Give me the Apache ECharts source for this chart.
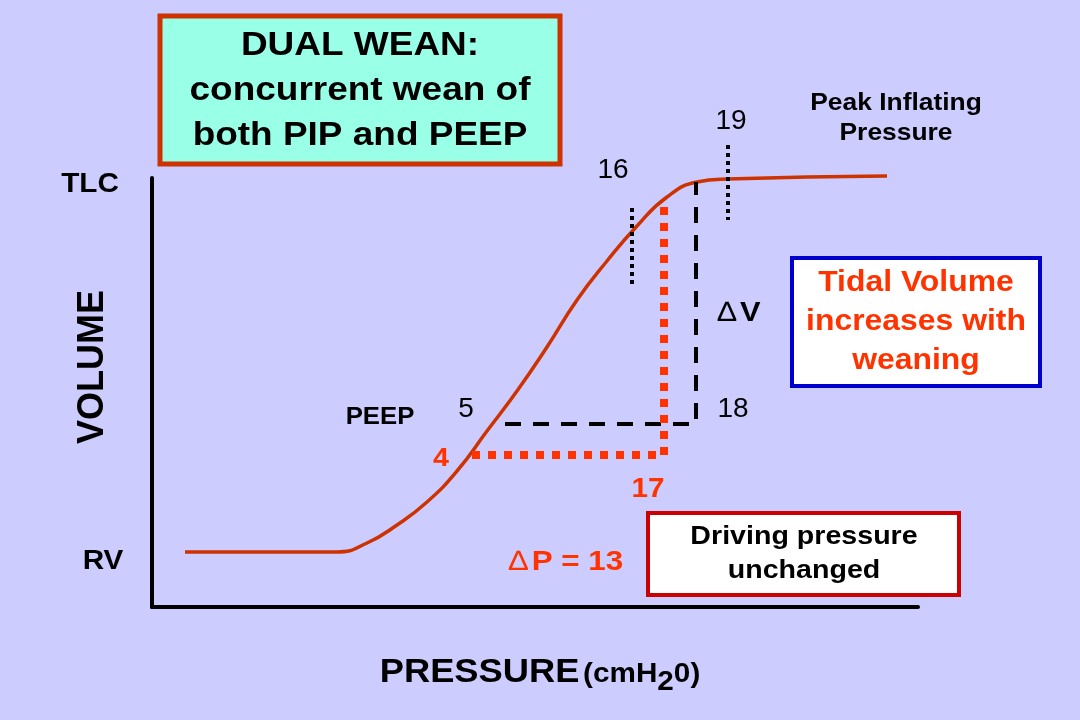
<!DOCTYPE html>
<html>
<head>
<meta charset="utf-8">
<script src="https://cdn.jsdelivr.net/npm/echarts@6/dist/echarts.min.js"></script>
<style>
html,body{margin:0;padding:0;background:#ccccff;}
#c{width:1080px;height:720px;}
</style>
</head>
<body>
<div id="c"></div>
<script>
// Pressure-volume curve (abstract units: x = pressure position, y = volume position)
const curveX = [33, 185, 215, 245, 275, 305, 335, 365, 395, 425, 455, 485, 515, 545, 575, 735];
const curveY = [55, 55, 64, 82, 105, 136, 176, 216, 260, 307, 346, 381, 410, 425, 428, 431];
// Previous settings: PEEP 5 / PIP 18 (black dashed)
const oldX = [353, 544, 544];
const oldY = [183, 183, 425];
// New settings: PEEP 4 / PIP 17 (red dotted)
const newX = [320, 512, 512];
const newY = [152, 152, 408];
// Short markers at 16 and 19
const mark16X = [480, 480];
const mark16Y = [399, 323];
const mark19X = [576, 576];
const mark19Y = [462, 387];

const zip = (a, b) => a.map((v, i) => [v, b[i]]);
const chart = echarts.init(document.getElementById('c'));
const F = '"Liberation Sans", Arial, sans-serif';

function txt(x, y, text, size, opts) {
  opts = opts || {};
  return {
    type: 'text', x: x, y: y, scaleX: opts.sx || 1.1, rotation: opts.rot || 0, z: 100,
    style: {
      text: text,
      font: (opts.normal ? 'normal ' : 'bold ') + size + 'px ' + F,
      fill: opts.color || '#000',
      textAlign: 'center', align: 'center',
      textVerticalAlign: 'middle', verticalAlign: 'middle',
      lineHeight: opts.lh || size * 1.2,
      rich: opts.rich
    }
  };
}
function box(x, y, w, h, fill, stroke, lw) {
  return { type: 'rect', z: 90, shape: { x: x, y: y, width: w, height: h },
    style: { fill: fill, stroke: stroke, lineWidth: lw } };
}

chart.setOption({
  backgroundColor: '#ccccff',
  animation: false,
  grid: { left: 152, top: 178, width: 766, height: 429 },
  xAxis: { type: 'value', min: 0, max: 766,
    axisLine: { show: true, onZero: false, lineStyle: { color: '#000', width: 4 } },
    axisTick: { show: false }, axisLabel: { show: false }, splitLine: { show: false } },
  yAxis: { type: 'value', min: 0, max: 429,
    axisLine: { show: true, onZero: false, lineStyle: { color: '#000', width: 4 } },
    axisTick: { show: false }, axisLabel: { show: false }, splitLine: { show: false } },
  series: [
    { type: 'line', data: zip(curveX, curveY), smooth: 0.5, symbol: 'none', clip: false,
      lineStyle: { color: '#cc3300', width: 3.5 } },
    { type: 'line', data: zip(oldX, oldY), symbol: 'none', clip: false,
      lineStyle: { color: '#000', width: 4, type: [16, 12] } },
    { type: 'line', data: zip(newX, newY), symbol: 'none', clip: false,
      lineStyle: { color: '#ff3300', width: 8, type: [8, 8] } },
    { type: 'line', data: zip(mark16X, mark16Y), symbol: 'none', clip: false,
      lineStyle: { color: '#000', width: 4, type: [4, 4] } },
    { type: 'line', data: zip(mark19X, mark19Y), symbol: 'none', clip: false,
      lineStyle: { color: '#000', width: 4, type: [4, 4] } }
  ],
  graphic: [
    box(160, 16, 400, 148, '#99ffe6', '#cc3300', 5),
    txt(360, 91, 'DUAL WEAN:\nconcurrent wean of\nboth PIP and PEEP', 33, { lh: 45, sx: 1.12 }),
    box(792, 258, 248, 128, '#ffffff', '#0000cc', 4),
    txt(916, 322, 'Tidal Volume\nincreases with\nweaning', 29, { lh: 39, color: '#ff3300', sx: 1.1 }),
    box(648, 513, 311, 82, '#ffffff', '#cc0000', 4),
    txt(804, 554, 'Driving pressure\nunchanged', 26, { lh: 34, sx: 1.1 }),
    txt(90, 185, 'TLC', 27),
    txt(103, 562, 'RV', 27),
    txt(93, 367, 'VOLUME', 36, { rot: Math.PI / 2, sx: 1 }),
    { type: 'text', x: 540, y: 673, scaleX: 1.1, z: 100,
      style: { text: '{a|PRESSURE} {b|(cmH}{s|2}{b|0)}', textAlign: 'center', align: 'center',
        textVerticalAlign: 'middle', verticalAlign: 'middle', fill: '#000',
        rich: {
          a: { font: 'bold 33px ' + F, fill: '#000' },
          b: { font: 'bold 27px ' + F, fill: '#000', padding: [4, 0, 0, 0] },
          s: { font: 'bold 27px ' + F, fill: '#000', padding: [20, 0, 0, 0] }
        } } },
    txt(896, 118, 'Peak Inflating\nPressure', 24, { lh: 30 }),
    txt(731, 121, '19', 28, { normal: true, sx: 1 }),
    txt(613, 170, '16', 28, { normal: true, sx: 1 }),
    txt(466, 409, '5', 28, { normal: true, sx: 1 }),
    txt(733, 409, '18', 28, { normal: true, sx: 1 }),
    txt(380, 418, 'PEEP', 23, { sx: 1.12 }),
    txt(441, 459, '4', 26, { color: '#ff3300' }),
    txt(648, 490, '17', 27, { color: '#ff3300' }),
    { type: 'text', x: 739, y: 313, scaleX: 1.1, z: 100,
      style: { text: '{d|∆} {v|V}', textAlign: 'center', align: 'center',
        textVerticalAlign: 'middle', verticalAlign: 'middle', fill: '#000',
        rich: { d: { font: 'normal 28px ' + F, fill: '#000' }, v: { font: 'bold 28px ' + F, fill: '#000' } } } },
    { type: 'text', x: 566, y: 562, scaleX: 1.12, z: 100,
      style: { text: '{d|∆} {v|P = 13}', textAlign: 'center', align: 'center',
        textVerticalAlign: 'middle', verticalAlign: 'middle', fill: '#ff3300',
        rich: { d: { font: 'normal 28px ' + F, fill: '#ff3300' }, v: { font: 'bold 28px ' + F, fill: '#ff3300' } } } }
  ]
});
</script>
</body>
</html>
